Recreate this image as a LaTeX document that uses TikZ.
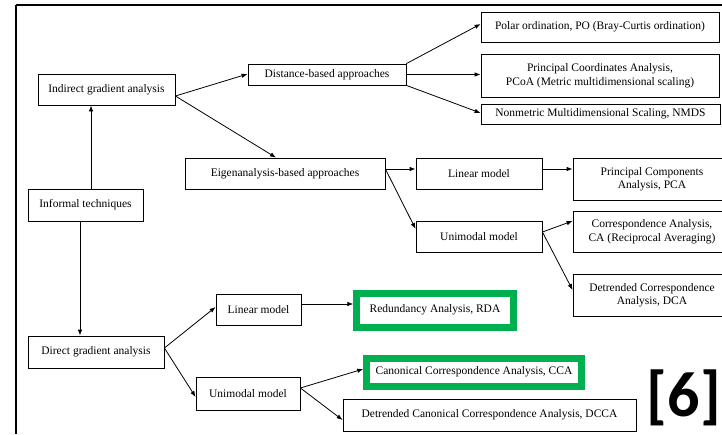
\documentclass[tikz,border=0pt]{standalone}
\usepackage{fontspec}
\setmainfont{Liberation Serif}
\newfontfamily\labelfont{Carlito}
\usetikzlibrary{arrows.meta}
\definecolor{hlgreen}{RGB}{0,176,80}
\tikzset{
  box/.style={draw=black, line width=0.8pt, fill=white, inner sep=0pt, align=center,
              font=\fontsize{11.5}{13.5}\selectfont},
  hlbox/.style={box, draw=hlgreen, line width=6.5pt},
  arr/.style={line width=0.8pt, -{Latex[length=6pt,width=4.5pt]}},
  frame/.style={line width=2.5pt}
}
\begin{document}
\begin{tikzpicture}[x=1pt, y=-1pt]
\clip (0,0) rectangle (722,434);
\fill[white] (0,0) rectangle (722,434);

% outer frame (top and left edges)
\draw[frame] (16,5) -- (722,5);
\draw[frame] (16,5) -- (16,434);

% left column
\node[box, minimum width=137pt, minimum height=31pt] (ind) at (106.5,89.5) {Indirect gradient analysis};
\node[box, minimum width=115pt, minimum height=32pt] (inf) at (85.5,205) {Informal techniques};
\node[box, minimum width=136pt, minimum height=32pt] (dir) at (96,352) {Direct gradient analysis};

% indirect branch
\node[box, minimum width=158pt, minimum height=21pt] (dist) at (327,74.5) {Distance-based approaches};
\node[box, minimum width=238pt, minimum height=30pt] (po) at (600,27) {Polar ordination, PO (Bray-Curtis ordination)};
\node[box, minimum width=238pt, minimum height=43pt] (pcoa) at (600,75.5) {Principal Coordinates Analysis,\\PCoA (Metric multidimensional scaling)};
\node[box, minimum width=239pt, minimum height=20pt] (nmds) at (600.5,114) {Nonmetric Multidimensional Scaling, NMDS};

\node[box, minimum width=200pt, minimum height=31pt] (eig) at (285,173.5) {Eigenanalysis-based approaches};
\node[box, minimum width=126pt, minimum height=31pt] (lina) at (479,173.5) {Linear model};
\node[box, minimum width=126pt, minimum height=31pt] (unia) at (479,236.5) {Unimodal model};
\node[box, minimum width=158pt, minimum height=42pt] (pca) at (652,179) {Principal Components\\Analysis, PCA};
\node[box, minimum width=158pt, minimum height=41pt] (ca) at (652,231.5) {Correspondence Analysis,\\CA (Reciprocal Averaging)};
\node[box, minimum width=158pt, minimum height=42pt] (dca) at (652,295) {Detrended Correspondence\\Analysis, DCA};

% direct branch
\node[box, minimum width=85pt, minimum height=31pt] (linb) at (258.5,309.5) {Linear model};
\node[box, minimum width=104pt, minimum height=33pt] (unib) at (248,393.5) {Unimodal model};
\node[hlbox, minimum width=157pt, minimum height=34pt] (rda) at (435,310.5) {\raisebox{3pt}{Redundancy Analysis, RDA}};
\node[hlbox, minimum width=215pt, minimum height=28pt] (cca) at (474,372.5) {\raisebox{3pt}{Canonical Correspondence Analysis, CCA}};
\node[box, minimum width=293pt, minimum height=32pt] (dcca) at (489.5,415) {\raisebox{2pt}{Detrended Canonical Correspondence Analysis, DCCA}};

% connectors
\draw[arr] ([xshift=5.5pt]inf.north) -- ([xshift=5.5pt]inf.north |- ind.south);
\draw[arr] ([xshift=-5.5pt]inf.south) -- ([xshift=-5.5pt]inf.south |- dir.north);

\draw[arr] ([yshift=-6.5pt]ind.east) -- ([yshift=0.5pt]dist.west);
\draw[arr] ([yshift=-6.5pt]ind.east) -- ([xshift=-9pt]eig.north);

\draw[arr] (dist.north east) -- ([yshift=3pt]po.west);
\draw[arr] (dist.east) -- (dist.east -| pcoa.west);
\draw[arr] (dist.south east) -- ([yshift=1pt]nmds.west);

\draw[arr] ([yshift=4.5pt]eig.east) -- ([yshift=4.5pt]lina.west);
\draw[arr] ([yshift=4.5pt]eig.east) -- ([yshift=7.5pt]unia.west);
\draw[arr] ([yshift=4.5pt]lina.east) -- ([yshift=4.5pt]lina.east -| pca.west);
\draw[arr] ([yshift=4.5pt]unia.east) -- ([yshift=10.5pt]ca.west);
\draw[arr] ([yshift=4.5pt]unia.east) -- ([yshift=5pt]dca.west);

\draw[arr] ([yshift=4pt]dir.east) -- ([yshift=2.5pt]linb.west);
\draw[arr] ([yshift=4pt]dir.east) -- ([yshift=-3.5pt]unib.west);
\draw[arr] ([yshift=5.5pt]linb.east) -- ([yshift=5.5pt]linb.east -| rda.west);
\draw[arr] ([yshift=5.5pt]unib.east) -- ([yshift=3.5pt]cca.west);
\draw[arr] ([yshift=5.5pt]unib.east) -- ([yshift=-5pt]dcca.west);

% reference mark
\node[font=\labelfont\bfseries\fontsize{64}{64}\selectfont, inner sep=0pt, anchor=east] (ref) at (721,398) {[6]};
\end{tikzpicture}
\end{document}
